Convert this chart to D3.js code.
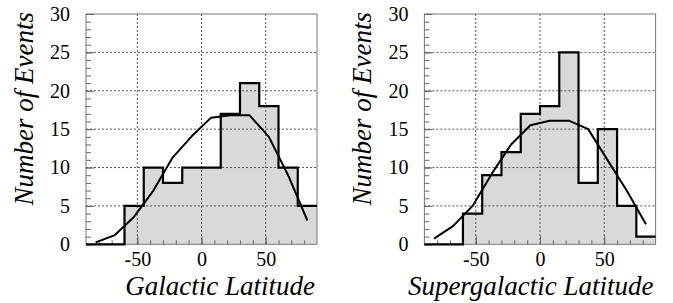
<!DOCTYPE html>
<html>
<head>
<meta charset="utf-8">
<script src="https://cdn.jsdelivr.net/npm/d3@7"></script>
<style>
  svg text { font-family: "Tinos", "Liberation Serif", "Times New Roman", serif !important; }
</style>
</head>
<body style="margin:0">
<svg id="chart" width="673" height="303"></svg>
<script>
// histogram bins: lower edge of each 15 degree bin
const binLo = [-90, -75, -60, -45, -30, -15, 0, 15, 30, 45, 60, 75];
const binHi = 90;
const galCounts = [0, 0, 5, 10, 8, 10, 10, 17, 21, 18, 10, 5];
const sgCounts = [0, 0, 4, 9, 12, 17, 18, 25, 8, 15, 5, 1];

// expected distribution (fit curve), at bin centres
const fitLat = [-82.5, -67.5, -52.5, -37.5, -22.5, -7.5, 7.5, 22.5, 37.5, 52.5, 67.5, 82.5];
const galFit = [0.25, 1.2, 3.6, 7.0, 11.3, 14.1, 16.5, 16.8, 16.8, 14.0, 9.0, 3.1];
const sgFit = [0.75, 2.4, 5.0, 9.2, 13.0, 15.5, 16.1, 16.1, 15.0, 11.0, 7.0, 2.6];

const yMajor = [0, 5, 10, 15, 20, 25, 30];
const xMajor = [-50, 0, 50];

const svg = d3.select("#chart");

function drawPanel(left, right, counts, fit, xTitle) {
    const top = 14, bottom = 244.3;
    const x = d3.scaleLinear().domain([-90, 90]).range([left, right]);
    const y = d3.scaleLinear().domain([0, 30]).range([bottom, top]);
    const g = svg.append("g");

    const steps = binLo.map((lo, i) => [lo, counts[i]]);
    steps.push([binHi, counts[counts.length - 1]]);

    // filled histogram
    g.append("path")
        .datum(steps)
        .attr("fill", "#d9d9d9")
        .attr("d", d3.area().curve(d3.curveStepAfter)
            .x(d => x(d[0])).y0(y(0)).y1(d => y(d[1])));

    // dotted grid
    g.selectAll(".hgrid")
        .data(yMajor.filter(v => v > 0 && v < 30))
        .enter().append("line")
        .attr("x1", left).attr("x2", right)
        .attr("y1", d => y(d)).attr("y2", d => y(d))
        .attr("stroke", "#555").attr("stroke-width", 1)
        .attr("stroke-dasharray", "2,2");
    g.selectAll(".vgrid")
        .data(xMajor)
        .enter().append("line")
        .attr("x1", d => x(d)).attr("x2", d => x(d))
        .attr("y1", top).attr("y2", bottom)
        .attr("stroke", "#555").attr("stroke-width", 1)
        .attr("stroke-dasharray", "2,2");

    // frame
    g.append("rect")
        .attr("x", left).attr("y", top)
        .attr("width", right - left).attr("height", bottom - top)
        .attr("fill", "none").attr("stroke", "#777").attr("stroke-width", 1);

    // y axis: minor and major ticks inside
    const yMinor = g.append("g").attr("transform", `translate(${left},0)`)
        .call(d3.axisLeft(y).tickValues(d3.range(0, 31)).tickSize(-5).tickFormat(""));
    const yAx = g.append("g").attr("transform", `translate(${left},0)`)
        .call(d3.axisLeft(y).tickValues(yMajor).tickSize(-8).tickPadding(16)
            .tickFormat(d => String(d)));

    // x axis
    const xMinor = g.append("g").attr("transform", `translate(0,${bottom})`)
        .call(d3.axisBottom(x).tickValues(d3.range(-80, 90, 10)).tickSize(-4).tickFormat(""));
    const xAx = g.append("g").attr("transform", `translate(0,${bottom})`)
        .call(d3.axisBottom(x).tickValues(xMajor).tickSize(-8).tickPadding(7.5)
            .tickFormat(d => String(d)));

    [yMinor, yAx, xMinor, xAx].forEach(a => {
        a.select(".domain").remove();
        a.selectAll("line").attr("stroke", "#666");
        a.attr("font-family", null).attr("font-size", null);
        a.selectAll("text").attr("fill", "#000").style("font-size", "20px");
    });

    // histogram outline
    g.append("path")
        .datum(steps)
        .attr("fill", "none").attr("stroke", "#000").attr("stroke-width", 2.2)
        .attr("d", d3.line().curve(d3.curveStepAfter)
            .x(d => x(d[0])).y(d => y(d[1])));

    // fit curve
    g.append("path")
        .datum(fitLat.map((v, i) => [v, fit[i]]))
        .attr("fill", "none").attr("stroke", "#000").attr("stroke-width", 2)
        .attr("stroke-linejoin", "round")
        .attr("d", d3.line().x(d => x(d[0])).y(d => y(d[1])));

    // titles
    g.append("text")
        .attr("x", right - 2).attr("y", 295)
        .attr("text-anchor", "end")
        .style("font-size", "27px").style("font-style", "italic")
        .text(xTitle);
    g.append("text")
        .attr("transform", `translate(${left - 53},12) rotate(-90)`)
        .attr("text-anchor", "end")
        .style("font-size", "27px").style("font-style", "italic")
        .text("Number of Events");
}

drawPanel(86, 317, galCounts, galFit, "Galactic Latitude");
drawPanel(424.4, 655.6, sgCounts, sgFit, "Supergalactic Latitude");
</script>
</body>
</html>
